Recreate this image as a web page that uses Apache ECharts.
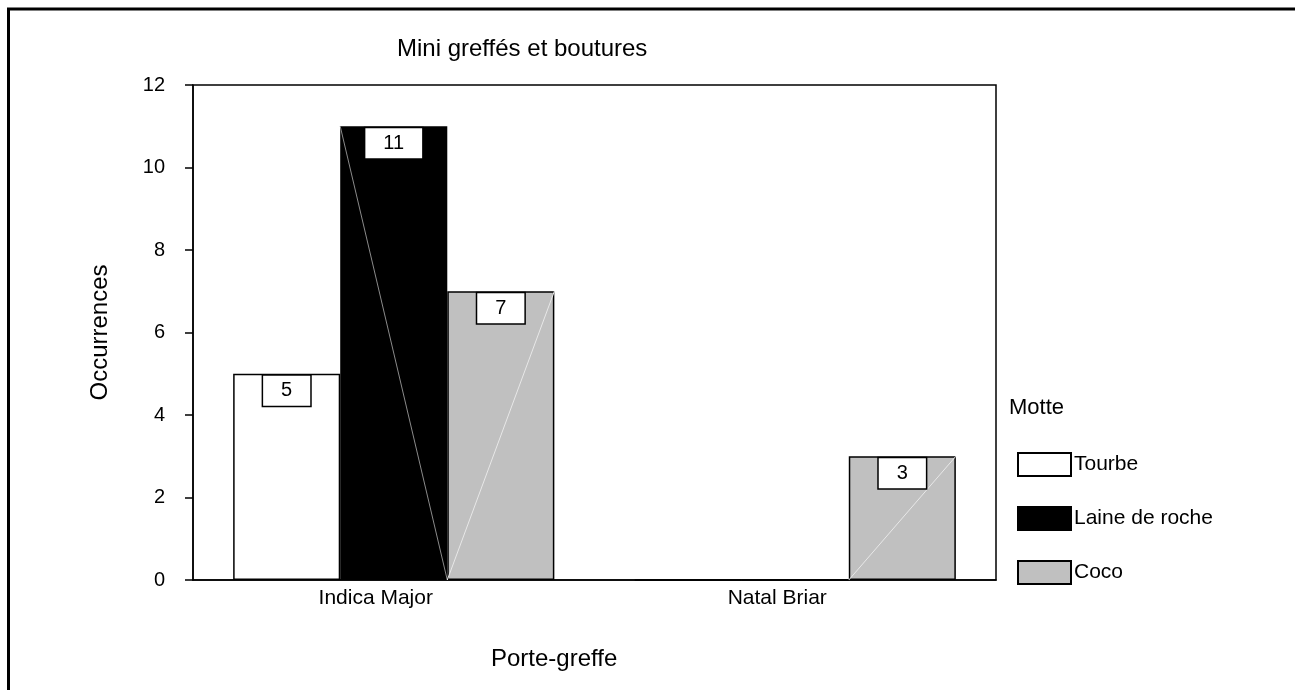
<!DOCTYPE html>
<html>
<head>
<meta charset="utf-8">
<script src="https://cdn.jsdelivr.net/npm/echarts@6/dist/echarts.min.js"></script>
<style>
  html, body { margin: 0; padding: 0; background: #fff; }
  #chart { width: 1295px; height: 690px; }
</style>
</head>
<body>
<div id="chart"></div>
<script>
const categories = ['Indica Major', 'Natal Briar'];
const motteNames = ['Tourbe', 'Laine de roche', 'Coco'];
const tourbe = [5, 0];
const laineDeRoche = [11, 0];
const coco = [7, 3];
const yTicks = { min: 0, max: 12, interval: 2 };

const FONT = '"Liberation Sans", Arial, sans-serif';
const chart = echarts.init(document.getElementById('chart'));

const fills = ['#ffffff', '#000000', '#c0c0c0'];
const diagColors = [null, '#8a8a8a', '#e8e8e8'];
const values = [tourbe, laineDeRoche, coco];

// diagonal stroke + boxed value label, drawn over each bar
function overlay(idx) {
  return function (params, api) {
    const v = api.value(1);
    const top = api.coord([api.value(0), v]);
    const base = api.coord([api.value(0), 0]);
    const band = api.size([1, 0])[0];
    const w = band * 0.8 / 3;
    const x0 = top[0] + (idx - 1) * w - w / 2;
    const x1 = x0 + w;
    const children = [];
    if (v > 0 && diagColors[idx]) {
      const shape = idx === 1
        ? { x1: x0, y1: top[1], x2: x1, y2: base[1] }
        : { x1: x0, y1: base[1], x2: x1, y2: top[1] };
      children.push({ type: 'line', shape: shape, style: { stroke: diagColors[idx], lineWidth: 1 } });
    }
    if (v > 0) {
      children.push({
        type: 'text',
        style: {
          text: String(v),
          x: (x0 + x1) / 2,
          y: top[1] + 2,
          align: 'center',
          verticalAlign: 'top',
          font: '20px ' + FONT,
          fill: '#000',
          backgroundColor: '#fff',
          borderColor: '#000',
          borderWidth: 1.5,
          padding: [5, 18]
        }
      });
    }
    return { type: 'group', children: children };
  };
}

const barSeries = motteNames.map((name, i) => ({
  name: name,
  type: 'bar',
  barGap: '0%',
  barCategoryGap: '20%',
  data: values[i],
  itemStyle: { color: fills[i], borderColor: '#000', borderWidth: 1.5 },
  emphasis: { disabled: true }
}));

const overlaySeries = motteNames.map((name, i) => ({
  type: 'custom',
  z: 3,
  silent: true,
  renderItem: overlay(i),
  data: values[i].map((v, c) => [c, v])
}));

const option = {
  animation: false,
  textStyle: { fontFamily: FONT, color: '#000' },
  title: [
    { text: 'Mini greffés et boutures', left: 392, top: 32,
      textStyle: { fontSize: 24, fontWeight: 'normal', color: '#000', fontFamily: FONT } },
    { text: 'Motte', left: 1004, top: 392,
      textStyle: { fontSize: 22, fontWeight: 'normal', color: '#000', fontFamily: FONT } }
  ],
  legend: {
    data: motteNames,
    orient: 'vertical',
    left: 1017,
    top: 452,
    padding: 0,
    itemWidth: 53,
    itemHeight: 23,
    itemGap: 29,
    icon: 'rect',
    selectedMode: false,
    textStyle: { fontSize: 21, color: '#000', fontFamily: FONT, padding: [0, 0, 0, -2] }
  },
  grid: {
    left: 193, top: 85, right: 299, bottom: 110,
    show: true, borderColor: '#000', borderWidth: 1.5,
    outerBoundsMode: 'none'
  },
  xAxis: {
    type: 'category',
    data: categories,
    axisLine: { lineStyle: { color: '#000', width: 1.5 } },
    axisTick: { alignWithLabel: true, length: 5, lineStyle: { color: '#000', width: 1.5 } },
    axisLabel: { fontSize: 21, color: '#000', margin: 8, fontFamily: FONT, padding: [0, 36, 0, 0] },
    splitLine: { show: false }
  },
  yAxis: {
    type: 'value',
    min: yTicks.min,
    max: yTicks.max,
    interval: yTicks.interval,
    name: 'Occurrences',
    nameLocation: 'middle',
    nameGap: 81,
    nameRotate: 90,
    nameTextStyle: { fontSize: 24, color: '#000', fontFamily: FONT },
    axisLine: { show: true, lineStyle: { color: '#000', width: 1.5 } },
    axisTick: { show: true, length: 8, lineStyle: { color: '#000', width: 1.5 } },
    axisLabel: { fontSize: 20, color: '#000', margin: 28, fontFamily: FONT },
    splitLine: { show: false }
  },
  graphic: [
    { type: 'line', shape: { x1: 7, y1: 9, x2: 1295, y2: 9 }, style: { stroke: '#000', lineWidth: 3 } },
    { type: 'line', shape: { x1: 8.5, y1: 8, x2: 8.5, y2: 690 }, style: { stroke: '#000', lineWidth: 3 } },
    { type: 'text', left: 491, top: 647,
      style: { text: 'Porte-greffe', font: '24px ' + FONT, fill: '#000' } }
  ],
  series: barSeries.concat(overlaySeries)
};

chart.setOption(option);
</script>
</body>
</html>
